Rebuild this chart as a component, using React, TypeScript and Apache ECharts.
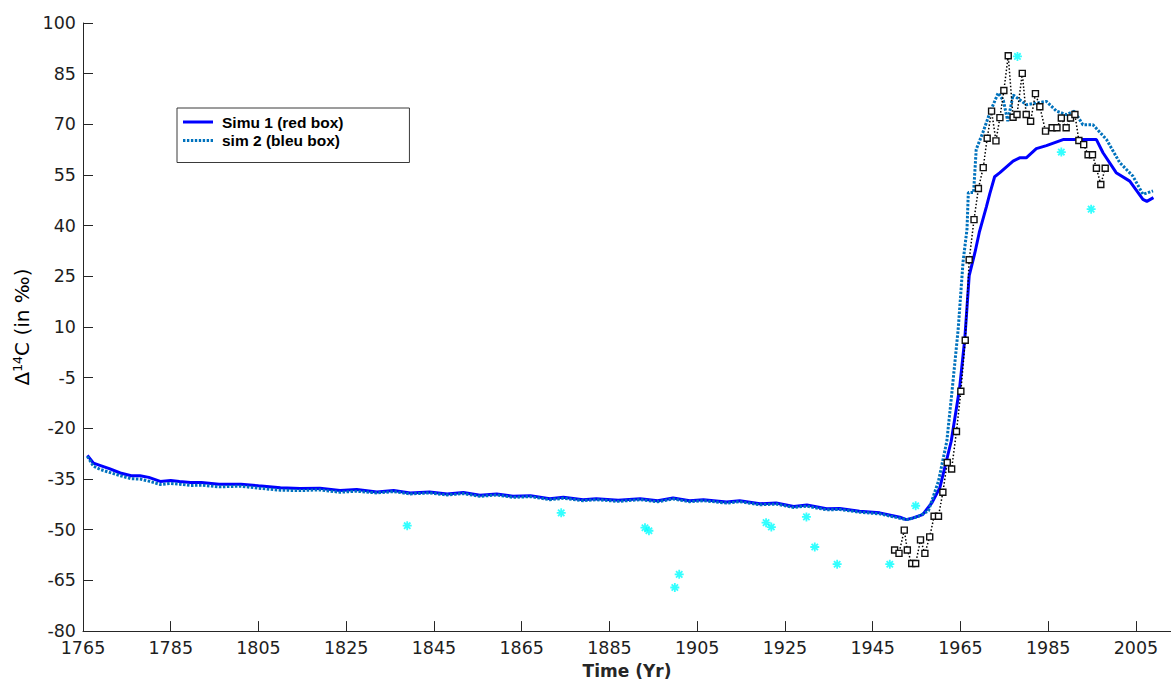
import React, { useEffect, useRef } from "react";
import * as echarts from "echarts";

// ---- data ----
const xTicks = [1765, 1785, 1805, 1825, 1845, 1865, 1885, 1905, 1925, 1945, 1965, 1985, 2005];
const yTicks = [-80, -65, -50, -35, -20, -5, 10, 25, 40, 55, 70, 85, 100];

const simu1Years = [1766, 1767.4, 1769, 1771, 1773.5, 1776, 1778, 1780, 1782.6, 1785, 1787, 1789.5, 1792, 1796, 1801, 1805, 1810, 1814.5, 1819, 1823.6, 1827.4, 1832, 1835.8, 1839.6, 1844, 1848, 1851.7, 1855.5, 1859.3, 1863, 1867, 1871.4, 1874.5, 1879, 1882, 1887, 1892, 1896, 1899.5, 1903.3, 1906.4, 1911.7, 1914.7, 1919.3, 1923, 1927, 1930, 1934.5, 1937.5, 1942, 1946.6, 1951.2, 1952.7, 1954.2, 1956.4, 1958.5, 1960.3, 1962.9, 1964.8, 1966, 1967, 1968.3, 1969.3, 1970.9, 1971.7, 1972.8, 1974, 1977, 1978.5, 1980, 1982.3, 1984.6, 1988.4, 1992.2, 1996, 1997.5, 2000.5, 2003.6, 2006.6, 2007.5, 2009];
const simu1Values = [-28.0, -30.3, -31.0, -31.9, -33.2, -34.0, -34.0, -34.5, -35.7, -35.4, -35.7, -36.0, -36.0, -36.5, -36.5, -37.0, -37.6, -37.8, -37.7, -38.4, -38.1, -38.8, -38.4, -39.1, -38.8, -39.4, -39.0, -39.8, -39.4, -40.1, -39.9, -40.8, -40.4, -41.1, -40.8, -41.3, -40.8, -41.4, -40.6, -41.4, -41.1, -41.8, -41.4, -42.3, -42.1, -43.1, -42.7, -43.8, -43.7, -44.5, -45.0, -46.3, -47.0, -46.5, -45.5, -42.0, -37.6, -23.8, -8.2, 6.6, 25.2, 32.0, 38.0, 45.5, 49.5, 54.5, 55.7, 59.1, 60.1, 60.1, 62.8, 63.7, 65.5, 65.5, 65.5, 61.6, 55.7, 53.2, 47.8, 47.2, 48.3];

const sim2Years = [1766, 1767.4, 1769, 1771, 1773.5, 1776, 1778, 1780, 1782.6, 1785, 1787, 1789.5, 1792, 1796, 1801, 1805, 1810, 1814.5, 1819, 1823.6, 1827.4, 1832, 1835.8, 1839.6, 1844, 1848, 1851.7, 1855.5, 1859.3, 1863, 1867, 1871.4, 1874.5, 1879, 1882, 1887, 1892, 1896, 1899.5, 1903.3, 1906.4, 1911.7, 1914.7, 1919.3, 1923, 1927, 1930, 1934.5, 1937.5, 1942, 1946.6, 1951.2, 1952.7, 1954.2, 1955.5, 1957.7, 1960, 1961.9, 1963, 1964.5, 1965.6, 1966.5, 1966.8, 1968, 1968.6, 1970.1, 1971.7, 1973.6, 1974.8, 1975.8, 1977, 1978.5, 1980, 1982.3, 1984.6, 1986.9, 1989.1, 1991, 1992.9, 1995.2, 1998.3, 2001.3, 2004.3, 2006.6, 2008.9];
const sim2Values = [-28.3, -31.2, -32.2, -33.0, -34.0, -34.9, -35.0, -35.6, -36.6, -36.3, -36.5, -36.9, -36.8, -37.3, -37.1, -37.7, -38.3, -38.4, -38.2, -38.9, -38.6, -39.1, -38.7, -39.4, -39.1, -39.7, -39.3, -40.1, -39.7, -40.4, -40.2, -41.1, -40.7, -41.4, -41.1, -41.6, -41.1, -41.7, -40.9, -41.7, -41.4, -42.1, -41.7, -42.6, -42.4, -43.4, -43.0, -44.1, -44.0, -44.8, -45.3, -46.6, -47.0, -46.6, -46.0, -44.4, -35.6, -23.8, -10.1, 9.5, 29.3, 39.0, 49.8, 49.8, 62.6, 67.5, 73.4, 79.3, 77.0, 70.9, 78.7, 77.3, 75.8, 76.3, 76.8, 73.9, 72.9, 73.9, 69.9, 69.9, 65.5, 58.7, 54.7, 49.3, 50.3];

const obsYears = [1950, 1951, 1952.2, 1952.9, 1953.9, 1954.8, 1955.9, 1956.9, 1958, 1959, 1960, 1961, 1962, 1963, 1964.1, 1965.1, 1966.1, 1967, 1968.1, 1969.1, 1970.2, 1971.1, 1972.1, 1973.1, 1974, 1974.9, 1975.9, 1977, 1977.9, 1979.1, 1980, 1981, 1982.1, 1983.1, 1984.4, 1985.9, 1987, 1988, 1989.1, 1990.1, 1991.1, 1992, 1993.1, 1994.1, 1995.1, 1996, 1997, 1998];
const obsValues = [-56.0, -57.0, -50.1, -56.0, -60.0, -60.0, -53.0, -57.0, -52.1, -46.0, -46.0, -38.9, -30.1, -32.0, -20.9, -9.0, 6.1, 29.9, 41.8, 51.0, 57.2, 65.9, 73.9, 65.1, 72.0, 80.0, 90.3, 72.1, 72.9, 85.1, 72.9, 70.9, 79.1, 75.2, 68.0, 69.0, 69.0, 71.9, 69.0, 71.9, 72.9, 65.2, 64.0, 61.0, 61.0, 57.0, 52.2, 57.0];

const starYears = [1838.9, 1874.0, 1893.1, 1894.0, 1899.9, 1900.9, 1920.7, 1921.9, 1929.9, 1931.8, 1936.9, 1948.9, 1954.8, 1978.0, 1988.0, 1994.8];
const starValues = [-48.8, -45.0, -49.4, -50.3, -67.1, -63.2, -47.9, -49.2, -46.2, -55.1, -60.2, -60.2, -42.9, 90.1, 61.8, 44.9];

const seriesNames = ["Simu 1 (red box)", "sim 2 (bleu box)"];

const zip = (xs: number[], ys: number[]) => xs.map((x, i) => [x, ys[i]]);

const asteriskPath =
  "path://M-1,-5L1,-5L1,5L-1,5Z M-5,-1L5,-1L5,1L-5,1Z M-2.83,-4.25L4.25,2.83L2.83,4.25L-4.25,-2.83Z M4.25,-2.83L-2.83,4.25L-4.25,2.83L2.83,-4.25Z";
const solidIcon = "path://M0,0L30,0L30,3L0,3Z";
const dottedIcon =
  "path://" +
  [0, 4, 8, 12, 16, 20, 24, 28].map((x) => `M${x},0L${x + 2.4},0L${x + 2.4},3L${x},3Z`).join("");

export default function App() {
  const ref = useRef<HTMLDivElement>(null);
  useEffect(() => {
    if (!ref.current) return;
    const chart = echarts.init(ref.current, undefined, { renderer: "svg" });
    const axisColor = "#262626";
    const labelFont = { color: "#1e1e1e", fontFamily: "DejaVu Sans", fontSize: 17.5 };
    chart.setOption({
      animation: false,
      backgroundColor: "#ffffff",
      grid: { left: 83, top: 23, right: 0, bottom: 50, containLabel: false },
      legend: {
        orient: "vertical",
        left: 177,
        top: 108,
        data: [
          { name: seriesNames[0], icon: solidIcon },
          { name: seriesNames[1], icon: dottedIcon },
        ],
        itemWidth: 30,
        itemHeight: 3,
        itemGap: 2.5,
        padding: [6, 66, 14, 6],
        borderColor: "#3a3a3a",
        borderWidth: 1,
        backgroundColor: "#ffffff",
        textStyle: {
          fontFamily: "Liberation Sans",
          fontWeight: "bold",
          fontSize: 15.5,
          color: "#000",
          lineHeight: 16,
          padding: [0, 0, 0, 4],
        },
      },
      xAxis: {
        type: "value",
        min: 1765,
        max: 2013,
        name: "Time (Yr)",
        nameLocation: "middle",
        nameGap: 30,
        nameTextStyle: { fontFamily: "DejaVu Sans", fontWeight: "bold", fontSize: 17, color: "#262626" },
        axisLine: { show: true, onZero: false, lineStyle: { color: axisColor, width: 1 } },
        axisTick: { show: true, inside: true, length: 10, customValues: xTicks, lineStyle: { color: axisColor } },
        axisLabel: { ...labelFont, margin: 8, customValues: xTicks, formatter: (v: number) => String(v) },
        splitLine: { show: false },
      },
      yAxis: {
        type: "value",
        min: -80,
        max: 100,
        name: "Δ{sup|14}C (in ‰)",
        nameLocation: "middle",
        nameGap: 48,
        nameRotate: 90,
        nameTextStyle: {
          fontFamily: "DejaVu Sans",
          fontSize: 20,
          color: "#000",
          rich: { sup: { fontFamily: "DejaVu Sans", fontSize: 12.5, color: "#000", verticalAlign: "top", padding: [0, 0, 8, 0] } },
        },
        axisLine: { show: true, onZero: false, lineStyle: { color: axisColor, width: 1 } },
        axisTick: { show: true, inside: true, length: 10, customValues: yTicks, lineStyle: { color: axisColor } },
        axisLabel: { ...labelFont, margin: 7, customValues: yTicks, formatter: (v: number) => String(v) },
        splitLine: { show: false },
      },
      series: [
        {
          name: seriesNames[0],
          type: "line",
          data: zip(simu1Years, simu1Values),
          symbol: "none",
          lineStyle: { color: "#0000ff", width: 3 },
          itemStyle: { color: "#0000ff" },
          z: 2,
        },
        {
          name: seriesNames[1],
          type: "line",
          data: zip(sim2Years, sim2Values),
          symbol: "none",
          lineStyle: { color: "#0072bd", width: 3, type: [2.5, 1.5] },
          itemStyle: { color: "#0072bd" },
          z: 3,
        },
        {
          name: "obs",
          type: "line",
          data: zip(obsYears, obsValues),
          symbol: "rect",
          symbolSize: 6,
          lineStyle: { color: "#000", width: 1.5, type: [1.5, 2] },
          itemStyle: { color: "#fff", borderColor: "#111", borderWidth: 1.4 },
          z: 4,
        },
        {
          name: "stars",
          type: "scatter",
          data: zip(starYears, starValues),
          symbol: asteriskPath,
          symbolSize: 9,
          itemStyle: { color: "#00ffff" },
          z: 5,
        },
      ],
    });
    return () => chart.dispose();
  }, []);
  return <div ref={ref} style={{ position: "fixed", left: 0, top: 0, width: 1171, height: 684 }} />;
}
